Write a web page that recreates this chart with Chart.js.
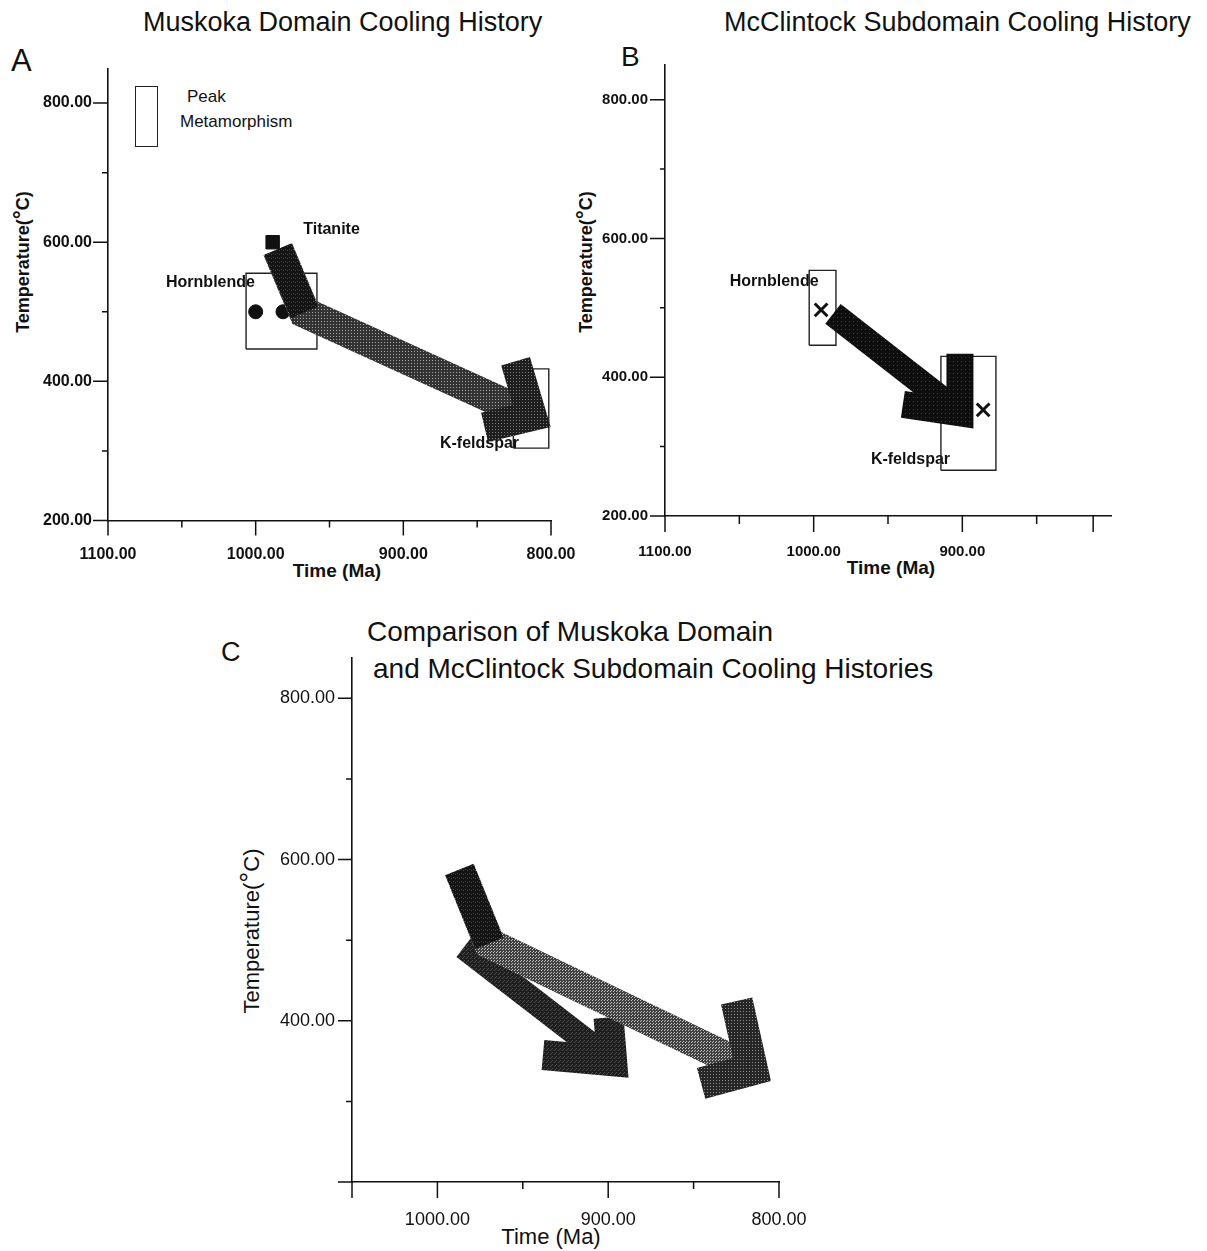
<!DOCTYPE html>
<html>
<head>
<meta charset="utf-8">
<script src="https://cdn.jsdelivr.net/npm/chart.js@4.4.1/dist/chart.umd.min.js"></script>
<style>
  html, body { margin: 0; padding: 0; background: #fff; }
  body { width: 1207px; height: 1251px; position: relative; overflow: hidden;
         font-family: "Liberation Sans", Arial, Helvetica, sans-serif; color: #111; }
  .t { position: absolute; white-space: nowrap; line-height: 1; }
  .cx { transform: translateX(-50%); }
  .rot { transform: translate(-50%, -50%) rotate(-90deg); }
  .deg { font-size: 1.25em; }
  canvas { position: absolute; }
  .legend-box { position: absolute; border: 1.5px solid #222; box-sizing: border-box; }
</style>
</head>
<body>
<!-- Panel titles and letters -->
<div class="t" style="left:143px;top:9px;font-size:27px">Muskoka Domain Cooling History</div>
<div class="t" style="left:724px;top:9px;font-size:27px">McClintock Subdomain Cooling History</div>
<div class="t" style="left:367px;top:618px;font-size:28px">Comparison of Muskoka Domain</div>
<div class="t" style="left:373px;top:655px;font-size:28px">and McClintock Subdomain Cooling Histories</div>
<div class="t" style="left:11px;top:45px;font-size:31px">A</div>
<div class="t" style="left:621px;top:43px;font-size:28px">B</div>
<div class="t" style="left:221px;top:639px;font-size:27px">C</div>

<!-- Panel A legend -->
<div class="legend-box" style="left:135px;top:86px;width:23px;height:61px"></div>
<div class="t" style="left:187px;top:88px;font-size:17px">Peak</div>
<div class="t" style="left:180px;top:113px;font-size:17px">Metamorphism</div>

<!-- Axis titles -->
<div class="t cx" style="left:337px;top:561px;font-size:19px;font-weight:bold">Time (Ma)</div>
<div class="t cx" style="left:891px;top:558px;font-size:19px;font-weight:bold">Time (Ma)</div>
<div class="t cx" style="left:551px;top:1226px;font-size:22px">Time (Ma)</div>
<div class="t rot" style="left:22px;top:262px;font-size:18px;font-weight:bold">Temperature(<span class="deg">°</span>C)</div>
<div class="t rot" style="left:585px;top:262px;font-size:18px;font-weight:bold">Temperature(<span class="deg">°</span>C)</div>
<div class="t rot" style="left:250px;top:931px;font-size:22px">Temperature(<span class="deg">°</span>C)</div>

<canvas id="cA" width="600" height="600" style="left:0;top:0"></canvas>
<canvas id="cB" width="607" height="600" style="left:600px;top:0"></canvas>
<canvas id="cC" width="700" height="651" style="left:200px;top:600px"></canvas>

<script>
// ---------- Panel A: Muskoka Domain ----------
const A_timeTicks  = [1100, 1050, 1000, 950, 900, 850, 800];
const A_timeLabels = [1100, 1000, 900, 800];
const A_tempTicks  = [200, 300, 400, 500, 600, 700, 800];
const A_tempLabels = [200, 400, 600, 800];

const A_pathTime = [985, 967, 813];          // cooling path: titanite -> hornblende bend -> K-feldspar
const A_pathTemp = [590, 499, 350];
const A_headTime = [824, 813, 845];          // arrowhead chevron
const A_headTemp = [429, 350, 334];
const A_hblBoxTime = [1006.5, 958.5];
const A_hblBoxTemp = [446.5, 555.5];
const A_kfsBoxTime = [825.5, 801.5];
const A_kfsBoxTemp = [304, 418];
const A_hblAgeTime = [1000, 981.5];
const A_hblAgeTemp = [500, 500];
const A_ttnAgeTime = [988.5];
const A_ttnAgeTemp = [600];
const A_noteText = ['Hornblende', 'Titanite', 'K-feldspar'];
const A_noteTime = [1060.7, 967.8, 875.2];
const A_noteTemp = [541.4, 617.6, 310];

// ---------- Panel B: McClintock Subdomain ----------
const B_timeTicks  = [1100, 1050, 1000, 950, 900, 850, 812];
const B_timeMajor  = [1100, 1000, 900, 812];
const B_timeLabels = [1100, 1000, 900];
const B_tempTicks  = [200, 300, 400, 500, 600, 700, 800];
const B_tempLabels = [200, 400, 600, 800];

const B_pathTime = [987, 901.6];
const B_pathTemp = [491.4, 348.6];
const B_headTime = [901.6, 901.6, 940];
const B_headTemp = [433.7, 348.6, 360.8];
const B_hblBoxTime = [1003, 985];
const B_hblBoxTemp = [446, 554];
const B_kfsBoxTime = [914.4, 877.4];
const B_kfsBoxTemp = [266, 430];
const B_ageTime = [995, 886];
const B_ageTemp = [497, 353];
const B_noteText = ['Hornblende', 'K-feldspar'];
const B_noteTime = [1056.5, 961.5];
const B_noteTemp = [537.5, 280.8];

// ---------- Panel C: comparison ----------
const C_timeTicks  = [1050, 1000, 950, 900, 850, 800];
const C_timeMajor  = [1050, 1000, 900, 800];
const C_timeLabels = [1000, 900, 800];
const C_tempTicks  = [200, 300, 400, 500, 600, 700, 800];
const C_tempMajor  = [200, 400, 600, 800];
const C_tempLabels = [400, 600, 800];

const C_muskPathTime = [987.1, 969.6, 815.8];
const C_muskPathTemp = [587.6, 496, 339.5];
const C_muskHeadTime = [824.8, 815.8, 845.6];
const C_muskHeadTemp = [424.5, 339.5, 322.4];
const C_mccPathTime = [984.4, 897.7];
const C_mccPathTemp = [491.5, 349.8];
const C_mccHeadTime = [899.8, 897.7, 938.2];
const C_mccHeadTemp = [404, 349.8, 357.5];

const INK = '#111';
const FAMILY = '"Liberation Sans", Arial, Helvetica, sans-serif';

function pts(ts, Ts) { return ts.map((t, i) => ({ x: t, y: Ts[i] })); }
function boxPts(ts, Ts) {
  return pts([ts[0], ts[1], ts[1], ts[0], ts[0]], [Ts[0], Ts[0], Ts[1], Ts[1], Ts[0]]);
}
function strokeSet(data, color, width, order) {
  return { data, showLine: true, borderColor: color, backgroundColor: 'transparent', borderWidth: width,
           borderJoinStyle: 'miter', borderCapStyle: 'butt', pointRadius: 0, tension: 0,
           fill: false, clip: false, order };
}
function markSet(data, style, radius, order, lw) {
  return { data, showLine: false, pointStyle: style, pointRadius: radius,
           pointBackgroundColor: INK, pointBorderColor: INK, pointBorderWidth: lw || 1,
           clip: false, order };
}
// halftone screen used for the thick arrow fills
function screen(canvasId, size, base, light, cells) {
  const tile = document.createElement('canvas');
  tile.width = tile.height = size;
  const g = tile.getContext('2d');
  g.fillStyle = base; g.fillRect(0, 0, size, size);
  g.fillStyle = light; cells.forEach(([i, j]) => g.fillRect(i, j, 1, 1));
  return document.getElementById(canvasId).getContext('2d').createPattern(tile, 'repeat');
}

function decor(cfg) {
  return {
    id: 'decor',
    beforeDatasetsDraw(chart) {
      if (!cfg.notes) return;
      const { ctx, scales: { x, y } } = chart;
      ctx.save();
      ctx.fillStyle = INK; ctx.font = cfg.notes.font;
      ctx.textAlign = 'left'; ctx.textBaseline = 'middle';
      cfg.notes.text.forEach((s, i) =>
        ctx.fillText(s, x.getPixelForValue(cfg.notes.t[i]), y.getPixelForValue(cfg.notes.T[i])));
      ctx.restore();
    },
    afterDraw(chart) {
      const { ctx, chartArea: a, scales: { x, y } } = chart;
      ctx.save();
      ctx.strokeStyle = INK; ctx.lineWidth = 1.5;
      ctx.beginPath();
      cfg.x.ticks.forEach(v => {
        const p = x.getPixelForValue(v);
        const L = cfg.x.major.includes(v) ? cfg.x.long : cfg.x.short;
        ctx.moveTo(p, a.bottom); ctx.lineTo(p, a.bottom + L);
      });
      cfg.y.ticks.forEach(v => {
        const p = y.getPixelForValue(v);
        const L = cfg.y.major.includes(v) ? cfg.y.long : cfg.y.short;
        ctx.moveTo(a.left, p); ctx.lineTo(a.left - L, p);
      });
      ctx.stroke();
      ctx.restore();
    }
  };
}

function panel(id, cfg) {
  const axis = (ax, room, isX) => ({
    type: 'linear', reverse: isX, min: ax.min, max: ax.max,
    afterFit(s) { if (isX) s.height = room; else s.width = room; },
    afterBuildTicks(s) { s.ticks = ax.labels.map(v => ({ value: v })); },
    grid: { display: true, drawOnChartArea: false, drawTicks: false },
    border: { display: true, color: INK, width: 1.6 },
    ticks: { padding: ax.pad, font: cfg.tickFont, color: INK, autoSkip: false,
             maxRotation: 0, minRotation: 0, callback: v => Number(v).toFixed(2) }
  });
  return new Chart(document.getElementById(id), {
    type: 'scatter',
    data: { datasets: cfg.datasets },
    options: {
      responsive: false, animation: false, events: [],
      layout: { padding: cfg.pad },
      plugins: { legend: { display: false }, tooltip: { enabled: false } },
      scales: { x: axis(cfg.x, cfg.x.room, true), y: axis(cfg.y, cfg.y.room, false) }
    },
    plugins: [decor(cfg)]
  });
}

// ---- fills ----
const A_gray = screen('cA', 3, '#333', '#a8a8a8', [[0, 0]]);
const A_dark = screen('cA', 4, '#141414', '#4a4a4a', [[1, 1], [3, 2]]);
const A_headFill = screen('cA', 3, '#1e1e1e', '#7a7a7a', [[0, 0]]);
const B_dark = screen('cB', 4, '#0e0e0e', '#3c3c3c', [[1, 1]]);
const C_gray = screen('cC', 3, '#404040', '#c4c4c4', [[0, 0], [2, 1]]);
const C_dark = screen('cC', 4, '#141414', '#4a4a4a', [[1, 1], [3, 2]]);
const C_headFill = screen('cC', 3, '#262626', '#8c8c8c', [[0, 0]]);
const C_mccFill = screen('cC', 4, '#1e1e1e', '#4e4e4e', [[0, 0], [2, 2], [3, 1]]);

// ---- Panel A ----
panel('cA', {
  pad: { left: 0, top: 68.3, right: 49, bottom: 0 },
  tickFont: { family: FAMILY, size: 16, weight: 'bold' },
  x: { min: 800, max: 1100, room: 79.5, pad: 24, labels: A_timeLabels,
       ticks: A_timeTicks, major: A_timeLabels, long: 15, short: 7 },
  y: { min: 200, max: 850, room: 108, pad: 16, labels: A_tempLabels,
       ticks: A_tempTicks, major: A_tempLabels, long: 15, short: 6 },
  notes: { font: 'bold 16px ' + FAMILY, text: A_noteText, t: A_noteTime, T: A_noteTemp },
  datasets: [
    strokeSet(boxPts(A_hblBoxTime, A_hblBoxTemp), '#222', 1.4, 10),
    strokeSet(boxPts(A_kfsBoxTime, A_kfsBoxTemp), '#222', 1.4, 10),
    markSet(pts(A_hblAgeTime, A_hblAgeTemp), 'circle', 7, 9),
    strokeSet(pts(A_pathTime, A_pathTemp), A_gray, 31, 8),
    strokeSet(pts(A_pathTime.slice(0, 2), A_pathTemp.slice(0, 2)), A_dark, 29, 7),
    strokeSet(pts(A_headTime, A_headTemp), A_headFill, 30, 6),
    markSet(pts(A_ttnAgeTime, A_ttnAgeTemp), 'rect', 9.5, 5)
  ]
});

// ---- Panel B ----
panel('cB', {
  pad: { left: 0, top: 65, right: 96, bottom: 0 },
  tickFont: { family: FAMILY, size: 15, weight: 'bold' },
  x: { min: 800, max: 1100, room: 84, pad: 26.5, labels: B_timeLabels,
       ticks: B_timeTicks, major: B_timeMajor, long: 16, short: 8 },
  y: { min: 200, max: 850, room: 65, pad: 17, labels: B_tempLabels,
       ticks: B_tempTicks, major: B_tempLabels, long: 15, short: 5 },
  notes: { font: 'bold 16px ' + FAMILY, text: B_noteText, t: B_noteTime, T: B_noteTemp },
  datasets: [
    strokeSet(boxPts(B_hblBoxTime, B_hblBoxTemp), '#222', 1.4, 10),
    strokeSet(boxPts(B_kfsBoxTime, B_kfsBoxTemp), '#222', 1.4, 10),
    strokeSet(pts(B_pathTime, B_pathTemp), B_dark, 25, 8),
    strokeSet(pts(B_headTime, B_headTemp), B_dark, 27, 7),
    markSet(pts(B_ageTime, B_ageTemp), 'crossRot', 9, 5, 3)
  ]
});

// ---- Panel C ----
panel('cC', {
  pad: { left: 0, top: 58, right: 121, bottom: 0 },
  tickFont: { family: FAMILY, size: 18, weight: 'normal' },
  x: { min: 800, max: 1050, room: 69, pad: 27, labels: C_timeLabels,
       ticks: C_timeTicks, major: C_timeMajor, long: 16, short: 7 },
  y: { min: 200, max: 850, room: 152, pad: 17, labels: C_tempLabels,
       ticks: C_tempTicks, major: C_tempMajor, long: 14, short: 6 },
  datasets: [
    strokeSet(pts(C_mccPathTime, C_mccPathTemp), C_mccFill, 25, 9),
    strokeSet(pts(C_mccHeadTime, C_mccHeadTemp), C_mccFill, 30, 8),
    strokeSet(pts(C_muskPathTime, C_muskPathTemp), C_gray, 31, 7),
    strokeSet(pts(C_muskPathTime.slice(0, 2), C_muskPathTemp.slice(0, 2)), C_dark, 30, 6),
    strokeSet(pts(C_muskHeadTime, C_muskHeadTemp), C_headFill, 32, 5)
  ]
});
</script>
</body>
</html>
